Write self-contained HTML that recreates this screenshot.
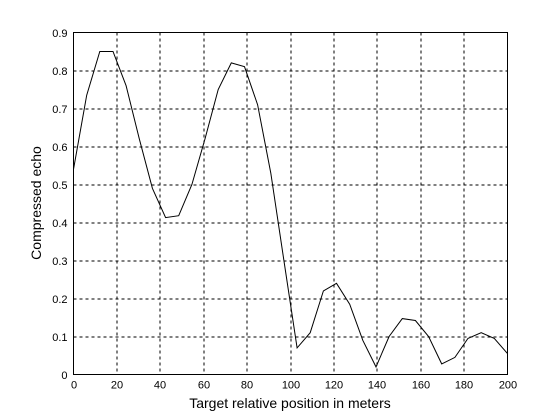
<!DOCTYPE html>
<html><head><meta charset="utf-8"><style>
body{margin:0;background:#fff;}
svg{display:block;font-family:"Liberation Sans",Arial,sans-serif;}
</style></head><body>
<svg id="chart" width="560" height="420" viewBox="0 0 560 420" xmlns="http://www.w3.org/2000/svg">
<rect width="560" height="420" fill="#fff"/>
<g id="grid"></g>
<g id="ticks" font-size="11" fill="#000"></g>
<polyline id="line" fill="none" stroke="#000" stroke-width="1"/>
<rect x="73.5" y="32.5" width="434" height="342" fill="none" stroke="#000" stroke-width="1"/>
<text x="290" y="408" font-size="14" text-anchor="middle">Target relative position in meters</text>
<text x="41" y="203" font-size="14" text-anchor="middle" transform="rotate(-90 41 203)">Compressed echo</text>
</svg>
<script>
const values = [0.54,0.735,0.85,0.85,0.76,0.62,0.49,0.413,0.418,0.50,0.62,0.75,0.82,0.81,0.71,0.53,0.30,0.07,0.11,0.22,0.24,0.185,0.09,0.02,0.10,0.147,0.142,0.10,0.028,0.045,0.095,0.11,0.095,0.055];
const xTicks = [0,20,40,60,80,100,120,140,160,180,200];
const yTicks = [0,0.1,0.2,0.3,0.4,0.5,0.6,0.7,0.8,0.9];
const X0=73.5,X1=507.5,Y0=374.5,Y1=32.5;
function sx(v){return X0+(v/200)*(X1-X0);}
function sy(v){return Y0-(v/0.9)*(Y0-Y1);}
const NS="http://www.w3.org/2000/svg";
const grid=document.getElementById('grid'),ticks=document.getElementById('ticks');
xTicks.forEach(t=>{
  const x=Math.round(sx(t))+0.5-0.5;
  if(t>0&&t<200){const l=document.createElementNS(NS,'line');
    l.setAttribute('x1',x);l.setAttribute('x2',x);l.setAttribute('y1',Y1);l.setAttribute('y2',Y0);
    l.setAttribute('stroke','#000');l.setAttribute('stroke-dasharray','3,3');
    
    
    grid.appendChild(l);}
  const tx=document.createElementNS(NS,'text');
  tx.setAttribute('x',x);tx.setAttribute('y',Y0+14);tx.setAttribute('text-anchor','middle');
  tx.textContent=t;
  
  
  ticks.appendChild(tx);
});
yTicks.forEach(t=>{
  const y=Math.round(sy(t))+0.5-0.5;
  if(t>0&&t<0.9){const l=document.createElementNS(NS,'line');
    l.setAttribute('x1',X0);l.setAttribute('x2',X1);l.setAttribute('y1',y);l.setAttribute('y2',y);
    l.setAttribute('stroke','#000');l.setAttribute('stroke-dasharray','3,3');
    
    
    grid.appendChild(l);}
  const tx=document.createElementNS(NS,'text');
  tx.setAttribute('x',X0-6);tx.setAttribute('y',y+4);tx.setAttribute('text-anchor','end');
  tx.textContent=String(t);
  
  
  ticks.appendChild(tx);
});
const step=200/(values.length-1);
document.getElementById('line').setAttribute('points',values.map((v,i)=>sx(i*step).toFixed(1)+','+sy(v).toFixed(1)).join(' '));
</script>
</body></html>
